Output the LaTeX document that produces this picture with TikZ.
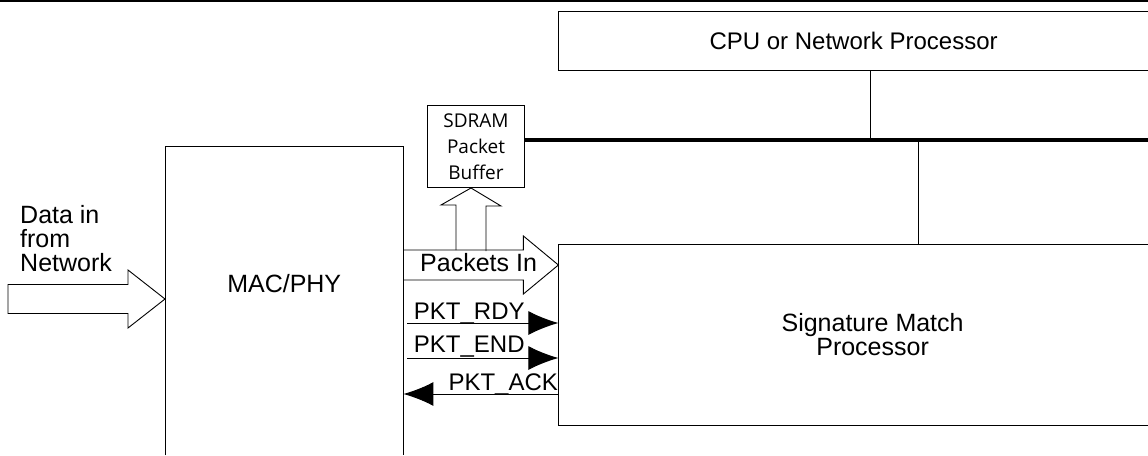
\documentclass[tikz,border=0pt]{standalone}
\usepackage{fontspec}
\setmainfont{Liberation Sans}
\newfontfamily\bufferfont{Open Sans}
\usetikzlibrary{arrows.meta, positioning, calc}

\begin{document}
\begin{tikzpicture}[
    x=1pt, y=-1pt,
    panel/.style={rectangle, inner sep=0pt, align=center,
                  font=\fontsize{25}{24}\selectfont},
    outline/.style={draw=black, line width=1pt},
    buffer/.style={rectangle, draw=black, line width=1pt, inner sep=0pt,
                   minimum width=97pt, minimum height=82pt, align=center,
                   font=\bufferfont\fontsize{19}{26}\selectfont},
    blockarrow/.style={draw=black, line width=0.9pt, line join=miter},
    signal/.style={draw=black, line width=1pt, -{Latex[length=30pt, width=24pt]}},
    sigtext/.style={inner sep=0pt, font=\fontsize{24}{24}\selectfont},
    bus/.style={line width=3.5pt}
]
    \useasboundingbox (0,0) rectangle (1148,455);
    \draw[line width=1.6pt] (0,1) -- (1148,1);

    % boxes
    \node[panel, anchor=north west, minimum width=238pt, minimum height=274pt] (mac) at (165,146) {MAC/PHY};
    \node[panel, below right=98pt and 155pt of mac.north east,
          minimum width=628pt, minimum height=181pt] (sig) {Signature Match\\Processor};
    \node[panel, above=174pt of sig.north west, anchor=south west,
          minimum width=590pt, minimum height=58pt, font=\fontsize{24}{24}\selectfont] (cpu) {CPU or Network Processor};
    \node[buffer, anchor=north west] (sdram) at (427,105) {SDRAM\\Packet\\Buffer};
    \node[panel, anchor=north west, align=left] (datain) at (20,205) {Data in\\from\\Network};
    \node[panel, anchor=base west] (pktin) at (420,271) {Packets In};

    \draw[outline] (cpu.north east) -- (cpu.north west) -- (cpu.south west) -- (cpu.south east);
    \draw[outline] ([yshift=-35pt]mac.south west) -- (mac.north west) -- (mac.north east) -- ([yshift=-35pt]mac.south east);
    \draw[outline] (sig.north west -| cpu.east) -- (sig.north west) -- (sig.south west) -- (sig.south west -| cpu.east);

    % bus
    \coordinate (busend) at (cpu.east |- 0,140);
    \coordinate (tapcpu) at (870,140);
    \coordinate (tapsig) at (918,140);
    \draw[bus] (sdram.east |- busend) -- (busend);
    \draw[outline] (tapcpu) -- (tapcpu |- cpu.south);
    \draw[outline] (tapsig) -- (tapsig |- sig.north);

    % block arrows
    \coordinate (datatip) at (mac.west |- 0,299);
    \draw[blockarrow] (datatip) -- ++(-37,-29) -- ++(0,14.5) -- ++(-120,0) -- ++(0,29)
        -- ++(120,0) -- ++(0,14.5) -- cycle;

    \coordinate (pkttip) at (sig.west |- 0,265);
    \draw[blockarrow] (mac.east |- 0,250) -- ++(120,0) -- ++(0,-14) -- (pkttip)
        -- ++(-35,29) -- ++(0,-14) -- (mac.east |- 0,280);

    \coordinate (buftip) at ([xshift=-5pt]sdram.south);
    \coordinate (bufbase) at (buftip |- 0,250);
    \draw[blockarrow] (bufbase) ++(-15,0) -- ++(0,-45) -- ++(-15,0) -- (buftip)
        -- ++(30,18) -- ++(-15,0) -- ++(0,45);

    % handshake signals
    \draw[signal, shorten <=4pt] (mac.east |- 0,323) -- (sig.west |- 0,323)
        node[sigtext, at start, anchor=base west, xshift=10pt, yshift=4pt] {PKT\_RDY};
    \draw[signal, shorten <=4pt] (mac.east |- 0,358) -- (sig.west |- 0,358)
        node[sigtext, at start, anchor=base west, xshift=10pt, yshift=6pt] {PKT\_END};
    \draw[signal] (sig.west |- 0,394) -- (mac.east |- 0,394)
        node[sigtext, at start, anchor=base east, yshift=4pt] {PKT\_ACK};
\end{tikzpicture}
\end{document}
